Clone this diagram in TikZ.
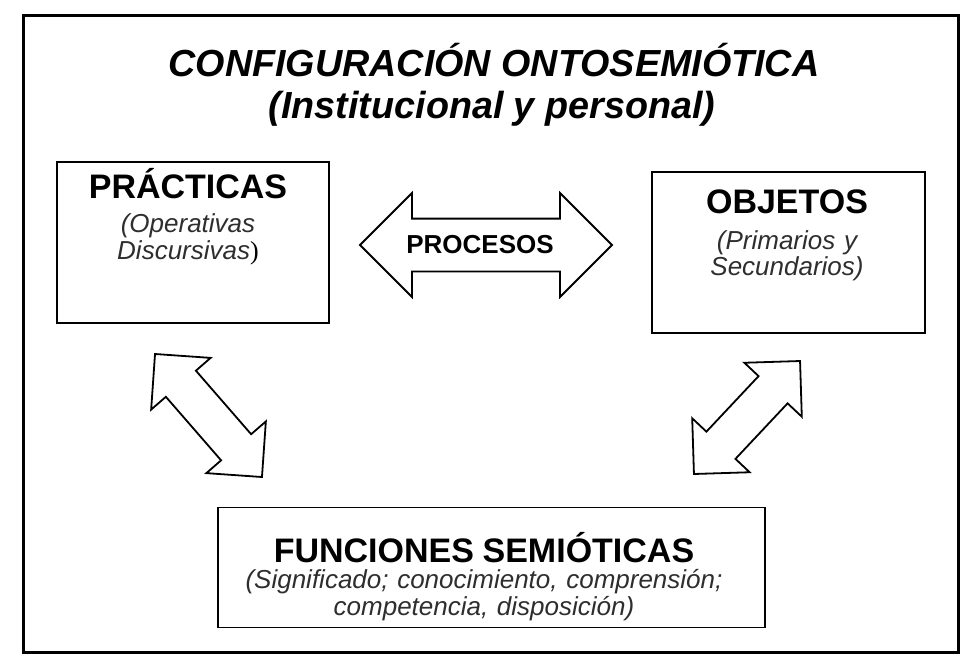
\documentclass[tikz,border=0pt]{standalone}
\usepackage{fontspec}
\setmainfont{Liberation Sans}
\newfontfamily\parenfont{Liberation Serif}
\usetikzlibrary{shapes.arrows, positioning}

\newcommand{\headfont}{\fontsize{34}{36}\selectfont\bfseries\upshape\color{black}}

\begin{document}
\begin{tikzpicture}[
    x=1pt, y=-1pt,
    frame/.style={draw, line width=3pt},
    title/.style={anchor=base, inner sep=0pt, font=\fontsize{37.7}{40}\selectfont\bfseries\itshape},
    concept/.style={rectangle, draw, line width=1.8pt, inner sep=0pt},
    conceptlabel/.style={anchor=base, align=center, inner sep=0pt, text width=#1, font=\fontsize{26}{26.5}\selectfont\itshape, text=black!82},
    flow/.style={double arrow, draw, fill=white, line width=1.8pt, inner xsep=0pt},
    procarrow/.style={flow, minimum height=252pt, minimum width=103pt, inner ysep=16.3pt, double arrow head extend=25.5pt, font=\fontsize{26}{28}\selectfont\bfseries},
    diagarrow/.style={flow, minimum width=78pt, inner ysep=19pt, double arrow head extend=19.5pt}
]
\useasboundingbox (0,0) rectangle (972,665);

% Outer frame and title
\draw[frame] (23,15) rectangle (958,652);
\node[title] (titulo) at (494,76) {CONFIGURACIÓN ONTOSEMIÓTICA};
\node[title] (subtitulo) at (492,118) {(Institucional y personal)};

% Main components
\node[concept, minimum width=272pt, minimum height=161pt] (practicas) at (193,242.5) {};
\node[conceptlabel=260pt] (practicas-text) at (188,198) {{\headfont PRÁCTICAS}\\[8pt](Operativas\\Discursivas{\parenfont\upshape\color{black})}};

\node[concept, minimum width=273pt, minimum height=161pt] (objetos) at (788.5,252.5) {};
\node[conceptlabel=260pt] (objetos-text) at (787,213) {{\headfont OBJETOS}\\[9.5pt](Primarios y\\Secundarios)};

\node[concept, minimum width=547pt, minimum height=120pt] (funciones) at (491.5,567.5) {};
\node[conceptlabel=530pt] (funciones-text) at (484,562) {{\headfont FUNCIONES SEMIÓTICAS}\\(Significado; conocimiento, comprensión;\\competencia, disposición)};

% Arrows
\node[procarrow] (procesos) at (486,245) {PROCESOS\kern12pt};
\node[diagarrow, minimum height=163pt, rotate=-49] (practicas-funciones) at (208.5,415.5) {};
\node[diagarrow, minimum height=155pt, rotate=46.8] (objetos-funciones) at (747,417.5) {};

\end{tikzpicture}
\end{document}
